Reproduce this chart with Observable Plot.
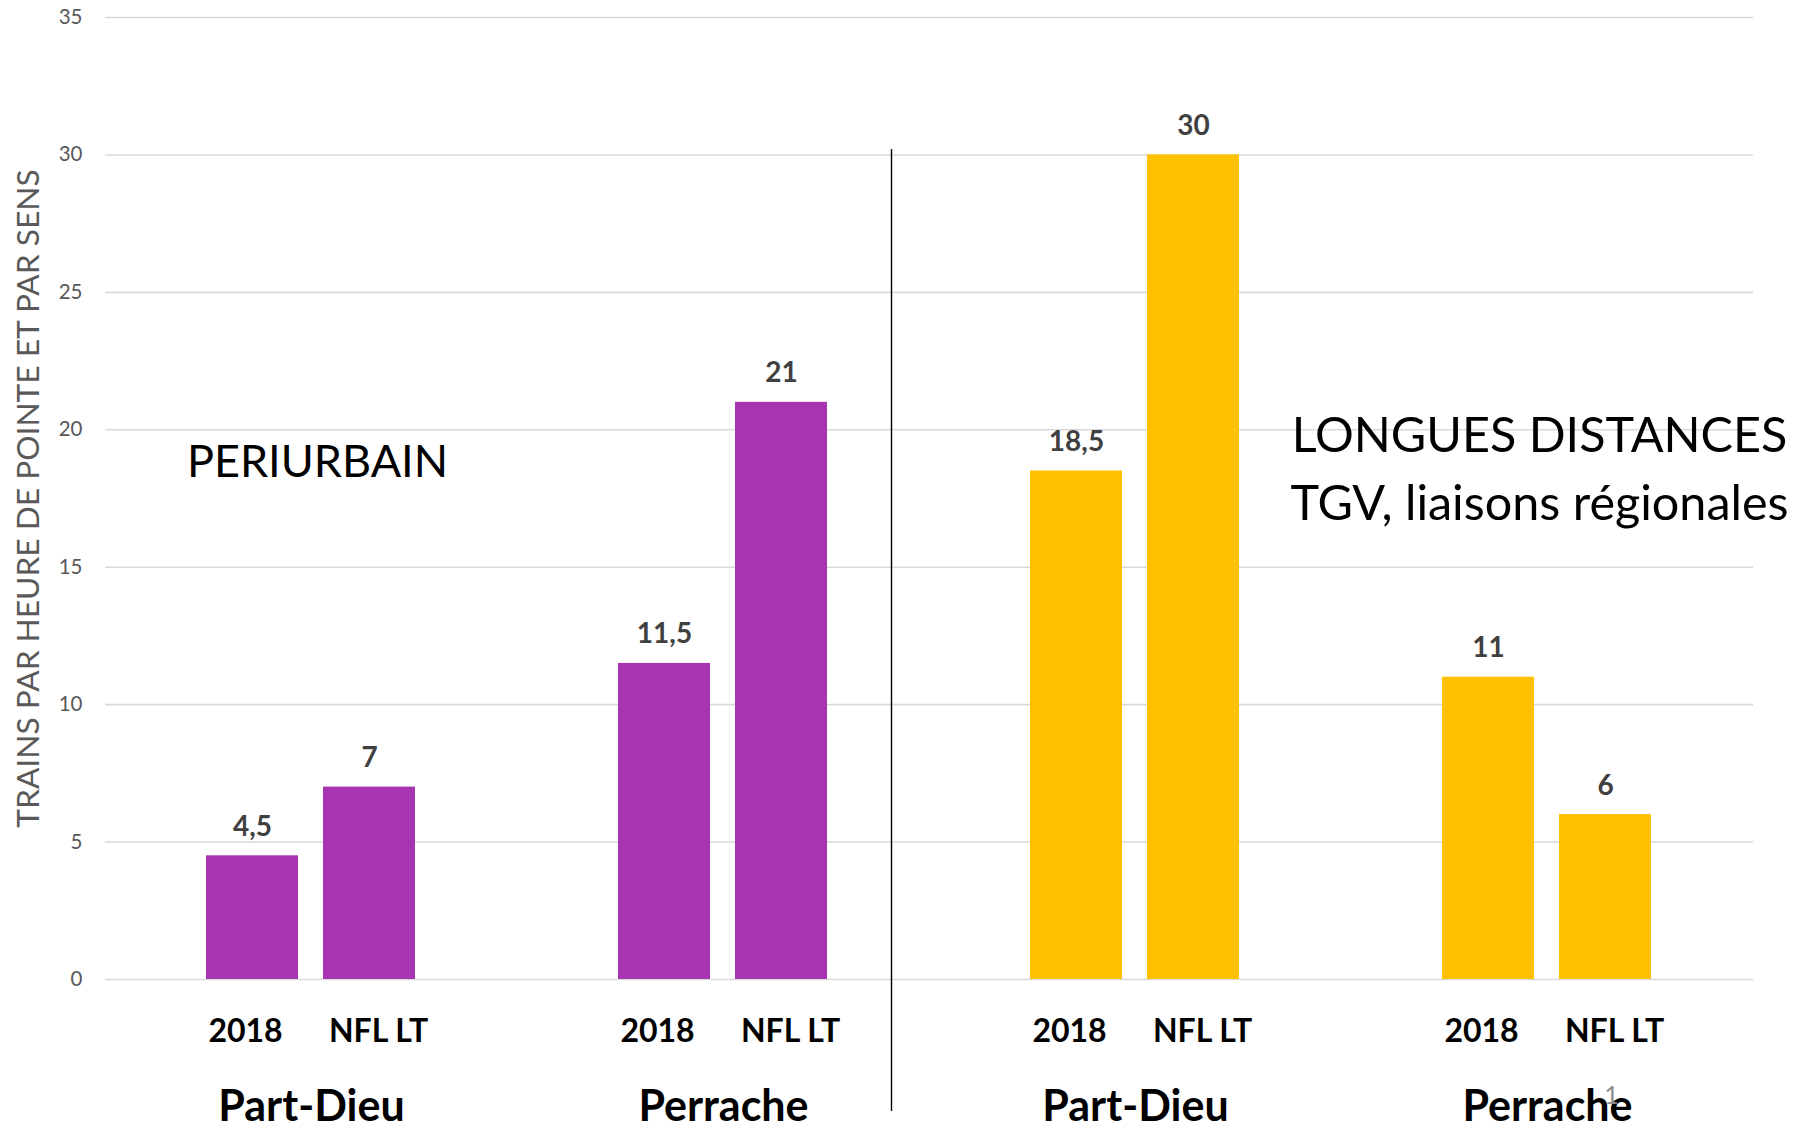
<!DOCTYPE html>
<html>
<head>
<meta charset="utf-8">
<script src="https://cdn.jsdelivr.net/npm/d3@7"></script>
<script src="https://cdn.jsdelivr.net/npm/@observablehq/plot@0.6"></script>
<style>
  html, body { margin: 0; padding: 0; background: #fff; }
  #chart svg { display: block; font-family: Lato, "Open Sans", sans-serif; }
</style>
</head>
<body>
<div id="chart"></div>
<script>
// ---- Data ----
const stations = ["Part-Dieu", "Perrache"];
const periods = ["2018", "NFL LT"];
const segments = ["PERIURBAIN", "LONGUES DISTANCES"];
const segmentKeys = ["peri", "ld"];
// values per station, in period order [2018, NFL LT]
const periurbainValues = { "Part-Dieu": [4.5, 7], "Perrache": [11.5, 21] };
const longuesDistancesValues = { "Part-Dieu": [18.5, 30], "Perrache": [11, 6] };
const segmentColors = ["#a735b2", "#ffc000"];
const yTicks = [0, 5, 10, 15, 20, 25, 30, 35];
const yLabel = "TRAINS PAR HEURE DE POINTE ET PAR SENS";
const periLabel = "PERIURBAIN";
const ldLabel = "LONGUES DISTANCES\nTGV, liaisons régionales";
const pageNumber = "1";

// ---- Build table ----
const valuesBySegment = [periurbainValues, longuesDistancesValues];
const rows = [];
const groupKeys = [];
segmentKeys.forEach((seg, si) => {
  stations.forEach(st => {
    const key = seg + "|" + st;
    groupKeys.push(key);
    periods.forEach((p, pi) => {
      rows.push({group: key, station: st, segment: segments[si], period: p,
                 value: valuesBySegment[si][st][pi], color: segmentColors[si]});
    });
  });
});
const fr = v => String(v).replace(".", ",");

const chart = Plot.plot({
  width: 1808,
  height: 1122,
  marginTop: 17,
  marginBottom: 143,
  marginLeft: 103,
  marginRight: 54,
  style: {fontFamily: "Lato, 'Open Sans', sans-serif", background: "#fff"},
  fx: {domain: groupKeys, padding: 0, label: null},
  x: {domain: periods, paddingInner: 0.212, paddingOuter: 0.855, label: null},
  y: {domain: [0, 35], label: null},
  marks: [
    Plot.gridY(yTicks, {stroke: "#d9d9d9", strokeOpacity: 1, strokeWidth: 1.6}),
    Plot.axisY(yTicks, {tickSize: 0, tickPadding: 23, fontSize: 20.5, color: "#595959", label: null}),
    // y axis title
    Plot.text([{group: groupKeys[0], label: yLabel}], {
      fx: "group", text: "label", frameAnchor: "left", rotate: -90,
      textAnchor: "middle", lineAnchor: "middle", dx: -77, fontSize: 31.7, fill: "#595959"
    }),
    Plot.axisX([periods[0]], {tickSize: 0, tickPadding: 40, fontSize: 32, fontWeight: "bold", color: "#000", label: null, dx: -7}),
    Plot.axisX([periods[1]], {tickSize: 0, tickPadding: 40, fontSize: 32, fontWeight: "bold", color: "#000", label: null, dx: 9}),
    Plot.axisFx({anchor: "bottom", tickSize: 0, tickPadding: 111, fontSize: 43, fontWeight: "bold",
                 color: "#000", label: null, tickFormat: k => k.split("|")[1]}),
    Plot.barY(rows, {fx: "group", x: "period", y: "value", fill: "color"}),
    Plot.text(rows, {fx: "group", x: "period", y: "value", text: d => fr(d.value),
                     lineAnchor: "bottom", dy: -20, fontSize: 28, fontWeight: "bold", fill: "#404040"}),
    // section titles
    Plot.text([{group: groupKeys[0], label: periLabel}], {
      fx: "group", text: "label", frameAnchor: "middle", lineAnchor: "bottom",
      dx: 6, dy: -22, fontSize: 45, fill: "#000"
    }),
    Plot.text([{group: groupKeys[3], label: ldLabel}], {
      fx: "group", text: "label", frameAnchor: "middle", lineAnchor: "bottom",
      dx: -8, dy: 21, fontSize: 48.5, lineHeight: 1.39, fill: "#000"
    }),
    // divider between the two sections
    Plot.ruleX([{group: groupKeys[1], period: periods[1]}], {
      fx: "group", x: "period", dx: 110, y1: 30.2, y2: -4.8, stroke: "#000", strokeWidth: 1.4
    }),
    // page number artifact
    Plot.text([{group: groupKeys[3], period: periods[1], label: pageNumber}], {
      fx: "group", x: "period", text: "label", frameAnchor: "bottom", lineAnchor: "bottom",
      dx: 6, dy: 124, fontSize: 25, fill: "#8c8c8c"
    })
  ]
});
document.getElementById("chart").append(chart);
</script>
</body>
</html>
